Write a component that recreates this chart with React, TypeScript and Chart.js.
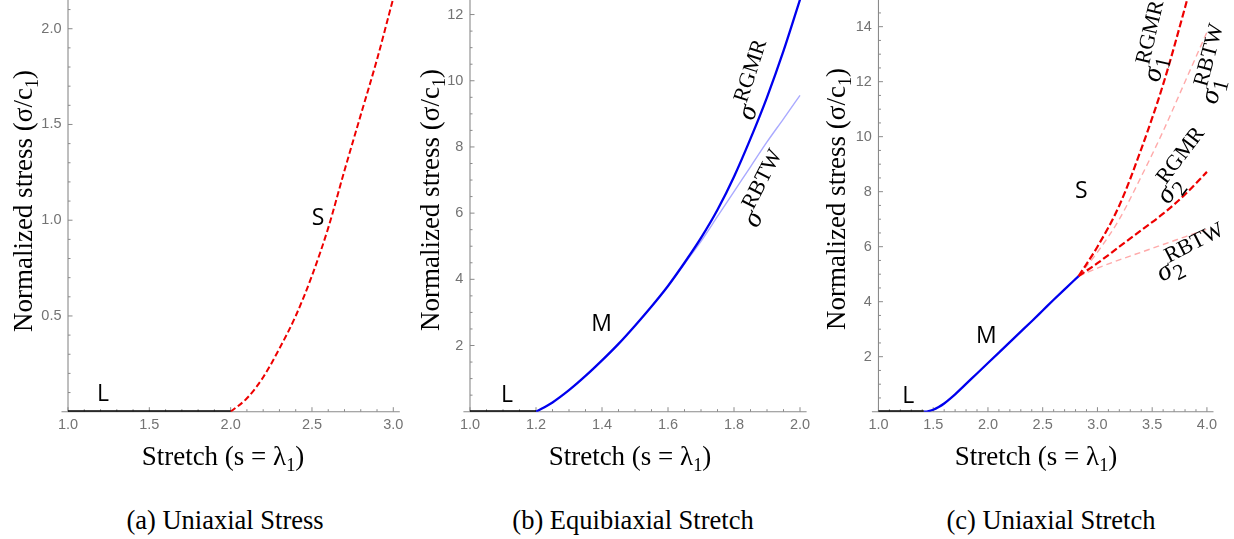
import React, { useEffect, useRef } from 'react';
import { Chart, registerables } from 'chart.js';

Chart.register(...registerables);

// ---------------- (a) Uniaxial Stress ----------------
const aRegionLStretch = [1.0, 2.0];
const aRegionLStress = [0, 0];
const aRegionSStretch = [2.0, 2.1, 2.2, 2.3, 2.4, 2.5, 2.6, 2.7, 2.8, 2.9, 3.0];
const aRegionSStress = [0, 0.07, 0.18, 0.33, 0.5, 0.71, 0.96, 1.26, 1.55, 1.84, 2.16];
const aXTicks = [1.0, 1.5, 2.0, 2.5, 3.0];
const aXTickLabels = ['1.0', '1.5', '2.0', '2.5', '3.0'];
const aYTicks = [0.5, 1.0, 1.5, 2.0];
const aYTickLabels = ['0.5', '1.0', '1.5', '2.0'];

// ---------------- (b) Equibiaxial Stretch ----------------
const bRegionLStretch = [1.0, 1.2];
const bRegionLStress = [0, 0];
const bRegionMStretch = [1.2, 1.25, 1.3, 1.35, 1.4, 1.45, 1.5, 1.55, 1.6, 1.65, 1.7, 1.75, 1.8, 1.85, 1.9, 1.95, 2.0];
const bRGMRStress = [0, 0.28, 0.65, 1.08, 1.55, 2.05, 2.6, 3.18, 3.8, 4.5, 5.25, 6.1, 7.1, 8.25, 9.5, 10.9, 12.45];
const bRBTWStretch = [1.6, 1.65, 1.7, 1.75, 1.8, 1.85, 1.9, 1.95, 2.0];
const bRBTWStress = [3.8, 4.47, 5.15, 5.9, 6.65, 7.4, 8.15, 8.85, 9.56];
const bXTicks = [1.0, 1.2, 1.4, 1.6, 1.8, 2.0];
const bXTickLabels = ['1.0', '1.2', '1.4', '1.6', '1.8', '2.0'];
const bYTicks = [2, 4, 6, 8, 10, 12];
const bYTickLabels = ['2', '4', '6', '8', '10', '12'];

// ---------------- (c) Uniaxial Stretch ----------------
const cRegionLStretch = [1.0, 1.414];
const cRegionLStress = [0, 0];
const cRegionMStretch = [1.414, 1.45, 1.5, 1.55, 1.6, 1.65, 1.7, 1.75, 1.8, 1.9, 2.0, 2.1, 2.2, 2.3, 2.4, 2.5, 2.6, 2.7, 2.828];
const cRegionMStress = [0, 0.015, 0.07, 0.17, 0.3, 0.46, 0.63, 0.82, 1.01, 1.39, 1.77, 2.15, 2.53, 2.91, 3.29, 3.68, 4.07, 4.45, 4.93];
const cSigma1RGMRStretch = [2.828, 3.0, 3.2, 3.4, 3.6, 3.8, 3.9];
const cSigma1RGMRStress = [4.93, 6.0, 7.5, 9.55, 11.9, 14.7, 16.2];
const cRegionSStretch = [2.828, 3.0, 3.2, 3.4, 3.6, 3.8, 4.0];
const cSigma1RBTWStress = [4.93, 5.8, 7.0, 8.55, 10.2, 12.0, 13.8];
const cSigma2RGMRStress = [4.93, 5.4, 6.0, 6.6, 7.2, 7.9, 8.72];
const cSigma2RBTWStress = [4.93, 5.22, 5.52, 5.8, 6.08, 6.36, 6.64];
const cXTicks = [1.0, 1.5, 2.0, 2.5, 3.0, 3.5, 4.0];
const cXTickLabels = ['1.0', '1.5', '2.0', '2.5', '3.0', '3.5', '4.0'];
const cYTicks = [2, 4, 6, 8, 10, 12, 14];
const cYTickLabels = ['2', '4', '6', '8', '10', '12', '14'];

const captions = ['(a) Uniaxial Stress', '(b) Equibiaxial Stretch', '(c) Uniaxial Stretch'];

// ---------------- styles ----------------
const AXIS_COLOR = '#8a8a8a';
const TICK_COLOR = '#737373';
const BLACK = '#000000';
const BLUE = '#0000ee';
const LIGHT_BLUE = '#aaaaff';
const RED = '#ee0000';
const LIGHT_RED = '#ffaaaa';
const CANVAS_H = 480;
const AXIS_Y = 411.7;
const SERIF = '"Liberation Serif", "Times New Roman", serif';

type Series = { xs: number[]; ys: number[]; color: string; width: number; dash?: number[] };
type Mark = { text: string; s: number; v: number };
type SigmaLabel = { sub: string; sup: string; s: number; v: number; angle: number };

interface PanelCfg {
  left: number;
  width: number;
  xMin: number;
  xMax: number;
  yMax: number;
  xTicks: number[];
  xTickLabels: string[];
  yTicks: number[];
  yTickLabels: string[];
  xMinor: number;
  yMinor: number;
  areaLeft: number;
  areaRight: number;
  series: Series[];
  marks: Mark[];
  sigmas: SigmaLabel[];
  yTitleX: number;
  yTitleY: number;
  xTitleX: number;
}

function drawSubText(
  ctx: CanvasRenderingContext2D,
  parts: { t: string; sub?: boolean }[],
  cx: number,
  baseY: number,
  size: number
) {
  const subSize = size * 0.68;
  const widths = parts.map((p) => {
    ctx.font = `${p.sub ? subSize : size}px ${SERIF}`;
    return ctx.measureText(p.t).width;
  });
  const total = widths.reduce((a, b) => a + b, 0);
  let x = cx - total / 2;
  ctx.textAlign = 'left';
  ctx.textBaseline = 'alphabetic';
  parts.forEach((p, i) => {
    ctx.font = `${p.sub ? subSize : size}px ${SERIF}`;
    ctx.fillText(p.t, x, p.sub ? baseY + size * 0.22 : baseY);
    x += widths[i];
  });
}

function drawSigma(ctx: CanvasRenderingContext2D, x: number, y: number, lab: SigmaLabel) {
  ctx.save();
  ctx.translate(x, y);
  ctx.rotate((-lab.angle * Math.PI) / 180);
  const baseFont = `italic 28px ${SERIF}`;
  const smallFont = `22px ${SERIF}`;
  ctx.font = baseFont;
  const w0 = ctx.measureText('σ').width;
  ctx.font = smallFont;
  const wsup = ctx.measureText(lab.sup).width;
  const wsub = lab.sub ? ctx.measureText(lab.sub).width : 0;
  const total = w0 + 1 + Math.max(wsup, wsub);
  const x0 = -total / 2;
  const base = 9;
  ctx.fillStyle = BLACK;
  ctx.textAlign = 'left';
  ctx.textBaseline = 'alphabetic';
  ctx.font = baseFont;
  ctx.fillText('σ', x0, base);
  ctx.font = smallFont;
  ctx.fillText(lab.sup, x0 + w0 + 1, base - (lab.sub ? 14 : 12));
  if (lab.sub) ctx.fillText(lab.sub, x0 + w0 + 1, base + 6);
  ctx.restore();
}

function mmaPlugin(cfg: PanelCfg) {
  return {
    id: 'mmaAxes',
    beforeDatasetsDraw(chart: any) {
      const ctx: CanvasRenderingContext2D = chart.ctx;
      const xs = chart.scales.x;
      const ys = chart.scales.y;
      const a = chart.chartArea;
      const x0 = xs.getPixelForValue(cfg.xTicks[0]);
      const y0 = ys.getPixelForValue(0);
      ctx.save();
      ctx.strokeStyle = AXIS_COLOR;
      ctx.lineWidth = 1.1;
      ctx.beginPath();
      ctx.moveTo(a.left, y0);
      ctx.lineTo(a.right, y0);
      ctx.moveTo(x0, y0);
      ctx.lineTo(x0, a.top);
      ctx.stroke();
      ctx.lineWidth = 1;
      ctx.beginPath();
      for (let k = Math.ceil(cfg.xMin / cfg.xMinor - 1e-9); k * cfg.xMinor <= cfg.xMax + 1e-9; k++) {
        const v = k * cfg.xMinor;
        const major = cfg.xTicks.some((m) => Math.abs(m - v) < 1e-6);
        const len = major ? 4.5 : 2.5;
        const px = xs.getPixelForValue(v);
        ctx.moveTo(px, y0);
        ctx.lineTo(px, y0 - len);
      }
      for (let k = 1; k * cfg.yMinor <= cfg.yMax + 1e-9; k++) {
        const v = k * cfg.yMinor;
        const major = cfg.yTicks.some((m) => Math.abs(m - v) < 1e-6);
        const len = major ? 4.5 : 2.5;
        const py = ys.getPixelForValue(v);
        ctx.moveTo(x0, py);
        ctx.lineTo(x0 + len, py);
      }
      ctx.stroke();
      ctx.restore();
    },
    afterDraw(chart: any) {
      const ctx: CanvasRenderingContext2D = chart.ctx;
      const xs = chart.scales.x;
      const ys = chart.scales.y;
      ctx.save();
      ctx.fillStyle = BLACK;
      drawSubText(ctx, [{ t: 'Stretch (s = λ' }, { t: '1', sub: true }, { t: ')' }], cfg.xTitleX, 465, 27);
      ctx.save();
      ctx.translate(cfg.yTitleX, cfg.yTitleY);
      ctx.rotate(-Math.PI / 2);
      drawSubText(ctx, [{ t: 'Normalized stress (σ/c' }, { t: '1', sub: true }, { t: ')' }], 0, 0, 27);
      ctx.restore();
      ctx.font = '23px "Open Sans", "Liberation Sans", sans-serif';
      ctx.textAlign = 'center';
      ctx.textBaseline = 'alphabetic';
      cfg.marks.forEach((m) => {
        ctx.fillText(m.text, xs.getPixelForValue(m.s), ys.getPixelForValue(m.v) + 8.3);
      });
      cfg.sigmas.forEach((s) => drawSigma(ctx, xs.getPixelForValue(s.s), ys.getPixelForValue(s.v), s));
      ctx.restore();
    },
  };
}

function Panel({ cfg }: { cfg: PanelCfg }) {
  const ref = useRef<HTMLCanvasElement | null>(null);
  useEffect(() => {
    if (!ref.current) return;
    const chart = new Chart(ref.current, {
      type: 'line',
      data: {
        datasets: cfg.series.map((s) => ({
          data: s.xs.map((x, i) => ({ x, y: s.ys[i] })),
          borderColor: s.color,
          borderWidth: s.width,
          borderDash: s.dash || [],
          borderCapStyle: 'butt',
          pointRadius: 0,
          fill: false,
          cubicInterpolationMode: 'monotone',
        })) as any,
      },
      options: {
        animation: false,
        responsive: false,
        devicePixelRatio: 1,
        events: [],
        layout: { padding: { left: 0, top: 0, bottom: 0, right: cfg.width - cfg.areaRight } },
        plugins: { legend: { display: false }, tooltip: { enabled: false } },
        scales: {
          x: {
            type: 'linear',
            min: cfg.xMin,
            max: cfg.xMax,
            grid: { display: false, drawTicks: false },
            border: { display: false },
            ticks: {
              color: TICK_COLOR,
              font: { family: '"Liberation Sans", Arial, sans-serif', size: 14.5 },
              padding: 5,
              maxRotation: 0,
              autoSkip: false,
              callback: (_v: any, i: number) => cfg.xTickLabels[i],
            },
            afterBuildTicks: (sc: any) => {
              sc.ticks = cfg.xTicks.map((v) => ({ value: v }));
            },
            afterFit: (sc: any) => {
              sc.height = CANVAS_H - AXIS_Y;
              sc.paddingLeft = 0;
              sc.paddingRight = 0;
            },
          },
          y: {
            type: 'linear',
            min: 0,
            max: cfg.yMax,
            grid: { display: false, drawTicks: false },
            border: { display: false },
            ticks: {
              color: TICK_COLOR,
              font: { family: '"Liberation Sans", Arial, sans-serif', size: 14.5 },
              padding: 0,
              autoSkip: false,
              callback: (_v: any, i: number) => cfg.yTickLabels[i],
            },
            afterBuildTicks: (sc: any) => {
              sc.ticks = cfg.yTicks.map((v) => ({ value: v }));
            },
            afterFit: (sc: any) => {
              sc.width = cfg.areaLeft;
              sc.paddingTop = 0;
              sc.paddingBottom = 0;
            },
          },
        },
      } as any,
      plugins: [mmaPlugin(cfg) as any],
    });
    return () => chart.destroy();
  }, [cfg]);
  return (
    <canvas
      ref={ref}
      width={cfg.width}
      height={CANVAS_H}
      style={{ position: 'absolute', left: cfg.left, top: 0, width: cfg.width, height: CANVAS_H }}
    />
  );
}

const panelA: PanelCfg = {
  left: 0,
  width: 410,
  xMin: 0.96,
  xMax: 3.04,
  yMax: 2.15,
  xTicks: aXTicks,
  xTickLabels: aXTickLabels,
  yTicks: aYTicks,
  yTickLabels: aYTickLabels,
  xMinor: 0.1,
  yMinor: 0.1,
  areaLeft: 61.5,
  areaRight: 399.8,
  series: [
    { xs: aRegionLStretch, ys: aRegionLStress, color: BLACK, width: 3 },
    { xs: aRegionSStretch, ys: aRegionSStress, color: RED, width: 2, dash: [6, 3] },
  ],
  marks: [
    { text: 'L', s: 1.215, v: 0.098 },
    { text: 'S', s: 2.537, v: 1.017 },
  ],
  sigmas: [],
  yTitleX: 32,
  yTitleY: 201,
  xTitleX: 223,
};

const panelB: PanelCfg = {
  left: 410,
  width: 410,
  xMin: 0.98,
  xMax: 2.02,
  yMax: 12.44,
  xTicks: bXTicks,
  xTickLabels: bXTickLabels,
  yTicks: bYTicks,
  yTickLabels: bYTickLabels,
  xMinor: 0.05,
  yMinor: 0.5,
  areaLeft: 53.4,
  areaRight: 396.6,
  series: [
    { xs: bRegionLStretch, ys: bRegionLStress, color: BLACK, width: 3 },
    { xs: bRegionMStretch, ys: bRGMRStress, color: BLUE, width: 2.3 },
    { xs: bRBTWStretch, ys: bRBTWStress, color: LIGHT_BLUE, width: 1.4 },
  ],
  marks: [
    { text: 'L', s: 1.112, v: 0.535 },
    { text: 'M', s: 1.399, v: 2.69 },
  ],
  sigmas: [
    { sub: '', sup: 'RGMR', s: 1.87, v: 10.0, angle: 72 },
    { sub: '', sup: 'RBTW', s: 1.9, v: 6.7, angle: 63 },
  ],
  yTitleX: 29,
  yTitleY: 200,
  xTitleX: 220,
};

const panelC: PanelCfg = {
  left: 820,
  width: 414,
  xMin: 0.94,
  xMax: 4.06,
  yMax: 14.97,
  xTicks: cXTicks,
  xTickLabels: cXTickLabels,
  yTicks: cYTicks,
  yTickLabels: cYTickLabels,
  xMinor: 0.1,
  yMinor: 0.5,
  areaLeft: 51.9,
  areaRight: 393.5,
  series: [
    { xs: cRegionLStretch, ys: cRegionLStress, color: BLACK, width: 3 },
    { xs: cRegionMStretch, ys: cRegionMStress, color: BLUE, width: 2.3 },
    { xs: cSigma1RGMRStretch, ys: cSigma1RGMRStress, color: RED, width: 2.2, dash: [7, 3] },
    { xs: cRegionSStretch, ys: cSigma2RGMRStress, color: RED, width: 2.2, dash: [7, 3] },
    { xs: cRegionSStretch, ys: cSigma1RBTWStress, color: LIGHT_RED, width: 1.4, dash: [6, 4] },
    { xs: cRegionSStretch, ys: cSigma2RBTWStress, color: LIGHT_RED, width: 1.4, dash: [6, 4] },
  ],
  marks: [
    { text: 'L', s: 1.272, v: 0.63 },
    { text: 'M', s: 1.986, v: 2.81 },
    { text: 'S', s: 2.852, v: 8.06 },
  ],
  sigmas: [
    { sub: '1', sup: 'RGMR', s: 3.566, v: 13.44, angle: 77 },
    { sub: '1', sup: 'RBTW', s: 4.1, v: 12.6, angle: 75 },
    { sub: '2', sup: 'RGMR', s: 3.8, v: 8.86, angle: 53 },
    { sub: '2', sup: 'RBTW', s: 3.87, v: 5.65, angle: 27 },
  ],
  yTitleX: 25,
  yTitleY: 199,
  xTitleX: 216,
};

const captionCenters = [225, 633, 1051];

export default function App() {
  return (
    <div style={{ position: 'absolute', left: 0, top: 0, width: 1234, height: 539, background: '#fff', overflow: 'hidden' }}>
      <Panel cfg={panelA} />
      <Panel cfg={panelB} />
      <Panel cfg={panelC} />
      {captions.map((c, i) => (
        <div
          key={c}
          style={{
            position: 'absolute',
            left: captionCenters[i] - 200,
            width: 400,
            top: 505,
            height: 30,
            lineHeight: '30px',
            textAlign: 'center',
            fontFamily: SERIF,
            fontSize: 26.5,
            color: '#000',
            whiteSpace: 'nowrap',
          }}
        >
          {c}
        </div>
      ))}
    </div>
  );
}
